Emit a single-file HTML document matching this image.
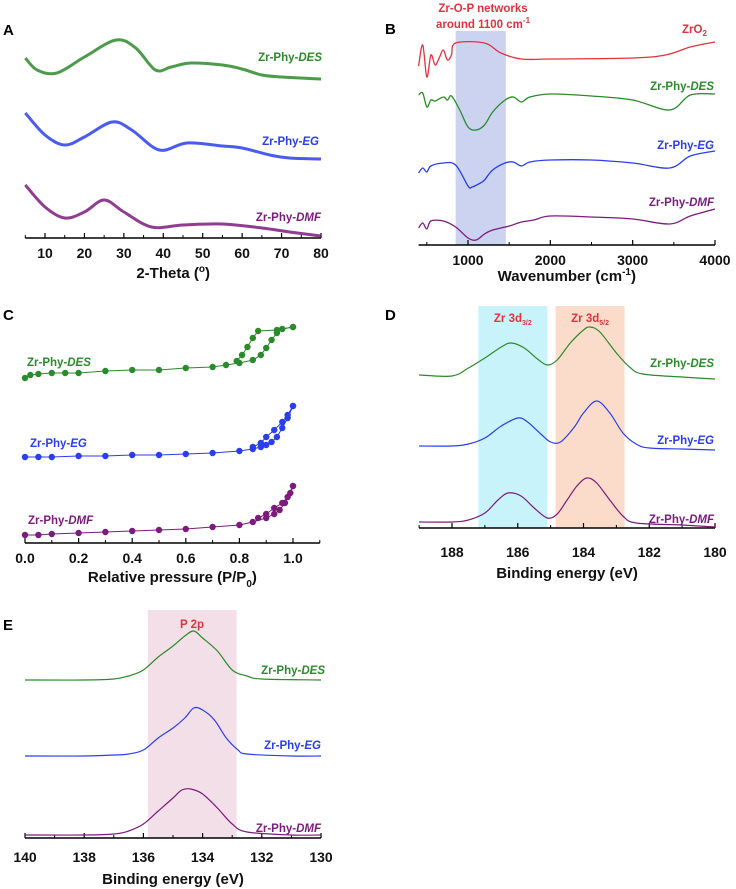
<!DOCTYPE html>
<html><head><meta charset="utf-8">
<style>
body{margin:0;background:#fff;}
svg{display:block;font-family:"Liberation Sans",Arial,sans-serif;}
.tk{font-size:14px;font-weight:bold;fill:#111;text-anchor:middle;}
.ttl{font-size:15px;font-weight:bold;fill:#111;text-anchor:middle;}
.lab{font-size:11.5px;font-weight:bold;}
.pl{font-size:15px;font-weight:bold;fill:#000;}
</style></head><body>
<svg id="fig" width="736" height="889" viewBox="0 0 736 889"></svg>
<script>
// ---- Panel A (XRD) ----
const aX_des=[5,8,13,20,28,33,38,42,47,55,60,65,70,80];
const aY_des=[180,168,165,181,198,190,168,171,175,173,169,163,161,159];
const aX_eg=[5,10,15,20,27,32,39,46,55,60,67,72,80];
const aY_eg=[125,103,93,101,116,108,88,95,92,90,83,80,79];
const aX_dmf=[5,10,15,20,25,30,37,45,55,65,72,80];
const aY_dmf=[53,31,20,26,38,26,11,13,14,10,6,2];
const aTicks=[10,20,30,40,50,60,70,80];
// ---- Panel B (FTIR) ----
const bX_zro=[400,450,500,550,600,650,700,750,800,850,1200,1400,1650,2000,3000,3400,3700,4000];
const bY_zro=[179,200,168,190,180,187,195,185,190,202,202,192,186,186,187,190,198,203];
const bX_des=[400,450,500,550,600,700,750,800,900,1000,1100,1200,1300,1450,1550,1650,1750,2000,2500,3000,3450,3700,4000];
const bY_des=[150,152,138,145,144,148,145,149,135,118,115,120,133,145,148,143,148,151,149,145,135,150,151];
const bX_eg=[400,450,500,550,700,850,1000,1050,1150,1200,1300,1450,1550,1650,1750,2000,2500,3000,3450,3700,4000];
const bY_eg=[72,77,73,79,82,80,59,58,62,65,75,82,83,79,83,85,85,82,77,89,94];
const bX_dmf=[400,450,500,550,700,850,1000,1100,1200,1300,1500,1650,1800,2000,2500,3000,3450,3700,4000];
const bY_dmf=[17,22,16,24,24,18,7,5,11,15,19,23,25,29,28,26,21,29,36];
const bTicks=[1000,2000,3000,4000];
// ---- Panel C (N2 isotherms) ----
const cX_desA=[0,0.02,0.05,0.1,0.15,0.2,0.3,0.4,0.5,0.6,0.7,0.75,0.8,0.85,0.88,0.9,0.92,0.94,0.96,1.0];
const cY_desA=[165,168,169,170,170,170,172,173,173,175,176,178,180,183,188,195,203,210,214,216];
const cX_desD=[1.0,0.94,0.87,0.85,0.83,0.81,0.79];
const cY_desD=[216,213,212,205,196,188,182];
const cX_egA=[0,0.05,0.1,0.2,0.3,0.4,0.5,0.6,0.7,0.8,0.85,0.88,0.9,0.92,0.94,0.96,0.98,1.0];
const cY_egA=[86,86,86,87,87,88,88,89,90,92,94,96,98,101,106,115,125,137];
const cX_egD=[1.0,0.98,0.96,0.93,0.9,0.88,0.85];
const cY_egD=[137,128,121,113,106,100,96];
const cX_dmfA=[0,0.05,0.1,0.2,0.3,0.4,0.5,0.6,0.7,0.8,0.85,0.9,0.93,0.95,0.97,0.99,1.0];
const cY_dmfA=[8,8,9,10,11,12,13,14,16,18,21,25,29,33,40,50,57];
const cX_dmfD=[1.0,0.98,0.96,0.93,0.9,0.87];
const cY_dmfD=[57,46,40,35,29,25];
const cTicks=[0,0.2,0.4,0.6,0.8,1.0];
// ---- Panel D (Zr 3d) ----
const dX_des=[189,188,187.5,187,186.5,186.2,185.8,185.4,185.1,184.8,184.4,184,183.8,183.5,183,182.6,182.2,181,180];
const dY_des=[153,152,160,170,181,185,180,169,163,168,185,198,201,196,175,161,154,151,149];
const dX_eg=[189,188,187.5,187,186.5,186,185.7,185.3,185,184.7,184.3,184,183.6,183.2,182.8,182.4,182,181,180];
const dY_eg=[82,82,84,90,102,110,106,94,86,86,100,115,127,115,95,84,80,79,78];
const dX_dmf=[189,188,187.5,187,186.6,186.3,185.9,185.5,185.1,184.8,184.5,184.2,183.9,183.6,183.2,182.8,182.4,181,180];
const dY_dmf=[6,6,8,15,28,35,32,20,10,14,28,42,50,45,28,12,5,3,1];
const dTicks=[188,186,184,182,180];
// ---- Panel E (P 2p) ----
const eX_des=[140,138,137,136.5,136,135.5,135,134.6,134.3,134,133.5,133,132.5,132,130];
const eY_des=[158,158,159,162,168,181,192,202,207,200,187,168,162,159,158];
const eX_eg=[140,138,137,136.5,136,135.5,135,134.6,134.3,134,133.6,133.2,132.8,132.5,131,130];
const eY_eg=[82,82,83,84,88,100,110,120,130,128,118,100,88,84,82,82];
const eX_dmf=[140,138,137,136.5,136,135.5,135,134.7,134.4,134,133.5,133,132.5,131,130];
const eY_dmf=[3,3,4,7,14,27,40,48,49,44,30,14,6,3,3];
const eTicks=[140,138,136,134,132,130];

const NS='http://www.w3.org/2000/svg';
const svg=document.getElementById('fig');
const G='#2b8a2b',B='#2a3ef0',P='#7d1a7d',R='#e3323c';
function mk(tag,at,parent){const e=document.createElementNS(NS,tag);for(const k in at)e.setAttribute(k,at[k]);(parent||svg).appendChild(e);return e;}
function lin(d0,d1,r0,r1){return v=>r0+(v-d0)*(r1-r0)/(d1-d0);}
function smooth(pts){let d='M'+pts[0][0].toFixed(1)+','+pts[0][1].toFixed(1);
 for(let i=0;i<pts.length-1;i++){const p0=pts[i-1]||pts[i],p1=pts[i],p2=pts[i+1],p3=pts[i+2]||p2;
 const c1=[p1[0]+(p2[0]-p0[0])/6,p1[1]+(p2[1]-p0[1])/6],c2=[p2[0]-(p3[0]-p1[0])/6,p2[1]-(p3[1]-p1[1])/6];
 d+=' C'+c1[0].toFixed(1)+','+c1[1].toFixed(1)+' '+c2[0].toFixed(1)+','+c2[1].toFixed(1)+' '+p2[0].toFixed(1)+','+p2[1].toFixed(1);}return d;}
function axis(g,x,d0,d1,axY,ticks,minor,fmt,title,titleY,name,lblOff){
 const ax=mk('g',{},g);
 
 
 mk('line',{x1:x(d0),x2:x(d1),y1:axY,y2:axY,stroke:'#000','stroke-width':1.4},ax);
 minor.forEach(v=>mk('line',{x1:x(v),x2:x(v),y1:axY,y2:axY-3,stroke:'#000','stroke-width':1},ax));
 ticks.forEach(v=>{mk('line',{x1:x(v),x2:x(v),y1:axY,y2:axY-5,stroke:'#000','stroke-width':1.2},ax);
  const t=mk('text',{x:x(v),y:axY+lblOff,class:'tk'},ax);t.textContent=fmt(v);
  
  });
 const tt=mk('text',{x:(x(d0)+x(d1))/2,y:titleY,class:'ttl'},ax);tt.innerHTML=title;
 
 
}
function curve(g,x,axY,xs,ys,col,w,name,op){
 const pts=xs.map((v,i)=>[x(v),axY-ys[i]]);
 const p=mk('path',{d:smooth(pts),fill:'none',stroke:col,'stroke-width':w,'stroke-opacity':op||1,'stroke-linejoin':'round'},g);
 
 
}
function label(g,x,y,anchor,col,pre,it,name){
 const t=mk('text',{x:x,y:y,class:'lab',fill:col,'text-anchor':anchor},g);
 t.innerHTML=pre+'<tspan font-style="italic">'+it+'</tspan>';
 
 
}
function plabel(x,y,s){const t=mk('text',{x:x,y:y,class:'pl'});t.textContent=s;
 
 }
function range(a,b,s){const r=[];for(let v=a;v<=b+1e-9;v+=s)r.push(+v.toFixed(4));return r;}

// Panel A
{const g=mk('g',{});
 const x=lin(10,80,45,321),axY=238;
 axis(g,x,5,80,axY,aTicks,range(5,75,10),v=>v,'2-Theta (<tspan font-size="10" dy="-6">o</tspan><tspan dy="6">)</tspan>',278,'x-axis-a',20);
 curve(g,x,axY,aX_des,aY_des,G,3,'xrd-des',0.85);
 curve(g,x,axY,aX_eg,aY_eg,B,3,'xrd-eg',0.85);
 curve(g,x,axY,aX_dmf,aY_dmf,P,3,'xrd-dmf',0.85);
 label(g,322,61,'end',G,'Zr-Phy-','DES','label-des');
 label(g,319,145,'end',B,'Zr-Phy-','EG','label-eg');
 label(g,321,221,'end',P,'Zr-Phy-','DMF','label-dmf');
 plabel(3,35,'A');}
// Panel B
{const g=mk('g',{});
 const x=lin(1000,4000,468,715),axY=245;
 const band=mk('rect',{x:x(850),y:31,width:x(1460)-x(850),height:axY-31,fill:'#cbd3f1'},g);
 
 axis(g,x,400,4000,axY,bTicks,range(500,3500,1000),v=>v,'Wavenumber (cm<tspan font-size="10" dy="-6">-1</tspan><tspan dy="6">)</tspan>',281,'x-axis-b',20);
 curve(g,x,axY,bX_zro,bY_zro,R,1.3,'ftir-zro2');
 curve(g,x,axY,bX_des,bY_des,G,1.3,'ftir-des');
 curve(g,x,axY,bX_eg,bY_eg,B,1.3,'ftir-eg');
 curve(g,x,axY,bX_dmf,bY_dmf,P,1.3,'ftir-dmf');
 const a1=mk('text',{x:483,y:12,class:'lab',fill:R,'text-anchor':'middle','font-size':'11'},g);a1.textContent='Zr-O-P networks';
 
 const a2=mk('text',{x:483,y:28,class:'lab',fill:R,'text-anchor':'middle'},g);a2.innerHTML='around 1100 cm<tspan font-size="8" dy="-5">-1</tspan>';
 
 const z=mk('text',{x:682,y:33,class:'lab',fill:R,'font-weight':'normal','font-size':'12'},g);z.innerHTML='ZrO<tspan font-size="8" dy="3">2</tspan>';
 
 label(g,714,90,'end',G,'Zr-Phy-','DES','label-des');
 label(g,714,149,'end',B,'Zr-Phy-','EG','label-eg');
 label(g,714,206,'end',P,'Zr-Phy-','DMF','label-dmf');
 plabel(385,34,'B');}
// Panel C
{const g=mk('g',{});
 const x=lin(0,1,25,293),axY=543;
 axis(g,x,0,1.1,axY,cTicks,range(0.1,1.1,0.2),v=>v.toFixed(1),'Relative pressure (P/P<tspan font-size="10" dy="5">0</tspan><tspan dy="-5">)</tspan>',582,'x-axis-c',20);
 [[cX_desA,cY_desA,G,'des-ads'],[cX_desD,cY_desD,G,'des-des'],[cX_egA,cY_egA,B,'eg-ads'],[cX_egD,cY_egD,B,'eg-des'],[cX_dmfA,cY_dmfA,P,'dmf-ads'],[cX_dmfD,cY_dmfD,P,'dmf-des']].forEach(s=>{
  const pts=s[0].map((v,i)=>x(v).toFixed(1)+','+(axY-s[1][i]).toFixed(1)).join(' ');
  const l=mk('polyline',{points:pts,fill:'none',stroke:s[2],'stroke-width':1},g);
  
  s[0].forEach((v,i)=>{const c=mk('circle',{cx:x(v),cy:axY-s[1][i],r:3.2,fill:s[2]},g);
   
   });
 });
 label(g,27,366,'start',G,'Zr-Phy-','DES','label-des');
 label(g,30,447,'start',B,'Zr-Phy-','EG','label-eg');
 label(g,28,524,'start',P,'Zr-Phy-','DMF','label-dmf');
 plabel(3,320,'C');}
// Panel D
{const g=mk('g',{});
 const x=lin(188,180,452,715),axY=528;
 const b1=mk('rect',{x:x(187.2),y:306,width:x(185.1)-x(187.2),height:axY-306,fill:'#c8f3fb'},g);
 
 const b2=mk('rect',{x:x(184.85),y:306,width:x(182.75)-x(184.85),height:axY-306,fill:'#fbdccb'},g);
 
 axis(g,x,189,180,axY,dTicks,range(181,189,2).reverse(),v=>v,'Binding energy (eV)',578,'x-axis-d',29);
 curve(g,x,axY,dX_des,dY_des,G,1.2,'zr3d-des');
 curve(g,x,axY,dX_eg,dY_eg,B,1.2,'zr3d-eg');
 curve(g,x,axY,dX_dmf,dY_dmf,P,1.2,'zr3d-dmf');
 const t1=mk('text',{x:x(186.15),y:322,class:'lab',fill:R,'text-anchor':'middle'},g);t1.innerHTML='Zr 3d<tspan font-size="7" dy="3">3/2</tspan>';
 
 const t2=mk('text',{x:x(183.8),y:322,class:'lab',fill:R,'text-anchor':'middle'},g);t2.innerHTML='Zr 3d<tspan font-size="7" dy="3">5/2</tspan>';
 
 label(g,714,367,'end',G,'Zr-Phy-','DES','label-des');
 label(g,714,444,'end',B,'Zr-Phy-','EG','label-eg');
 label(g,714,523,'end',P,'Zr-Phy-','DMF','label-dmf');
 plabel(385,320,'D');}
// Panel E
{const g=mk('g',{});
 const x=lin(140,130,25,321),axY=838;
 const b=mk('rect',{x:x(135.85),y:610,width:x(132.85)-x(135.85),height:axY-610,fill:'#f2dfe8'},g);
 
 axis(g,x,140,130,axY,eTicks,range(131,139,2).reverse(),v=>v,'Binding energy (eV)',884,'x-axis-e',24);
 curve(g,x,axY,eX_des,eY_des,G,1.2,'p2p-des');
 curve(g,x,axY,eX_eg,eY_eg,B,1.2,'p2p-eg');
 curve(g,x,axY,eX_dmf,eY_dmf,P,1.2,'p2p-dmf');
 const t=mk('text',{x:192,y:628,class:'lab',fill:R,'text-anchor':'middle'},g);t.textContent='P 2p';
 
 label(g,325,674,'end',G,'Zr-Phy-','DES','label-des');
 label(g,321,749,'end',B,'Zr-Phy-','EG','label-eg');
 label(g,321,832,'end',P,'Zr-Phy-','DMF','label-dmf');
 plabel(3,630,'E');}
</script>
</body></html>
